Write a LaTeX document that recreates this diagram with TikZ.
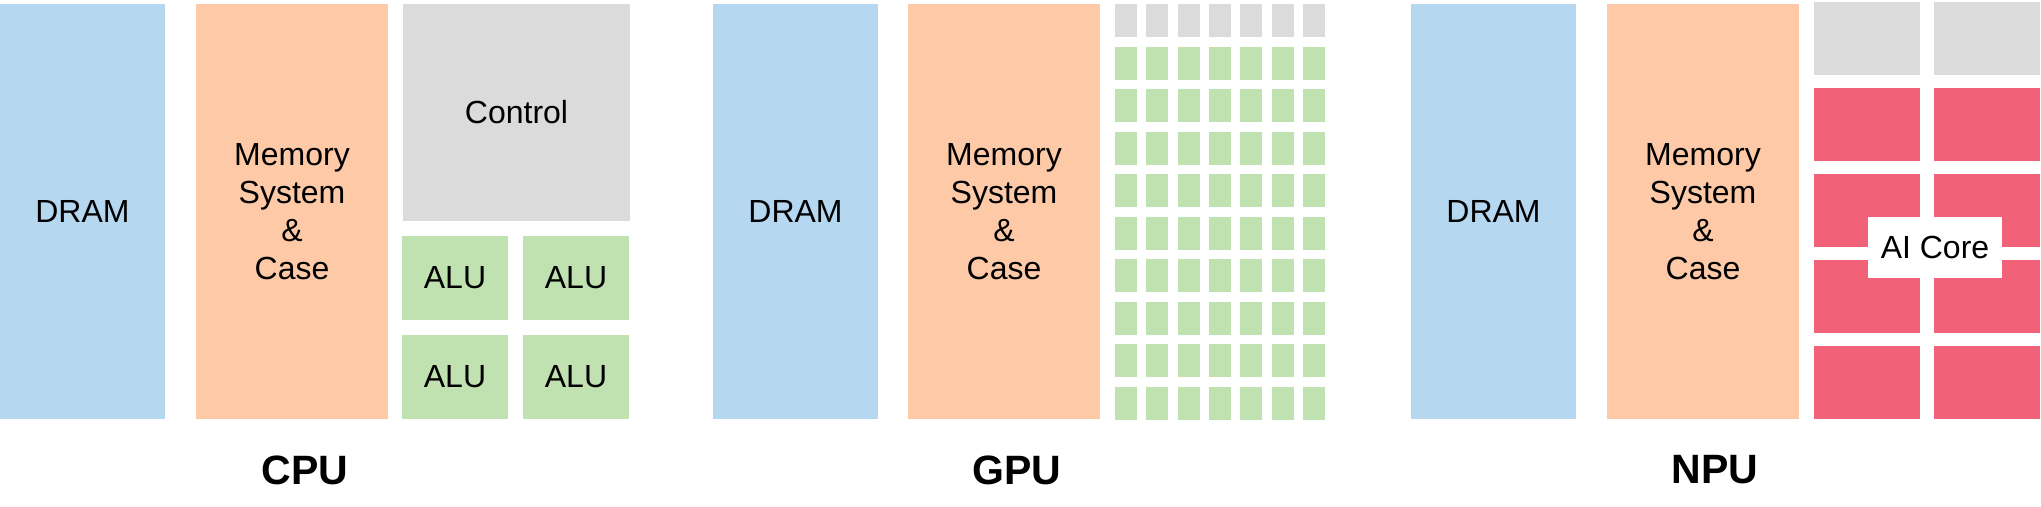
\documentclass[tikz,border=0pt]{standalone}
\usepackage{fontspec}
\setmainfont{Liberation Sans}
\usetikzlibrary{positioning}

\definecolor{dramblue}{HTML}{B6D7F0}
\definecolor{mempeach}{HTML}{FEC9A7}
\definecolor{ctrlgray}{HTML}{DBDBDB}
\definecolor{alugreen}{HTML}{C0E1B0}
\definecolor{corered}{HTML}{F16278}

\begin{document}
\begin{tikzpicture}[
                x=1pt, y=-1pt,
                font=\fontsize{32}{38}\selectfont,
                box/.style={inner sep=0pt, outer sep=0pt, align=center},
                dram/.style={box, fill=dramblue, minimum width=165pt, minimum height=415pt},
                memory/.style={box, fill=mempeach, minimum width=192pt, minimum height=415pt},
                control/.style={box, fill=ctrlgray, anchor=north west},
                alu/.style={box, fill=alugreen, anchor=north west, minimum width=106pt, minimum height=84pt},
                gpucore/.style={box, fill=alugreen, anchor=north west, minimum width=22pt, minimum height=33pt},
                npucore/.style={box, fill=corered, anchor=north west, minimum width=106pt, minimum height=73pt},
                title/.style={font=\fontsize{41}{41}\selectfont\bfseries}]

    \useasboundingbox (0,0) rectangle (2041,506);

    %%% CPU
    \node [dram, anchor=north west] (cpudram) at (0,4) {DRAM};
    \node [memory, right=31pt of cpudram] (cpumemory) {Memory\\System\\\&\\Case};
    \node [control, right=15pt of cpumemory.north east, anchor=north west,
           minimum width=227pt, minimum height=217pt] (cpucontrol) {Control};
    \node [alu] (alu11) at (402,236) {ALU};
    \node [alu] (alu12) at (523,236) {ALU};
    \node [alu] (alu21) at (402,335) {ALU};
    \node [alu] (alu22) at (523,335) {ALU};
    \node [title] (cpu) at (305,470) {CPU};

    %%% GPU
    \node [dram, anchor=north west] (gpudram) at (713,4) {DRAM};
    \node [memory, right=30pt of gpudram] (gpumemory) {Memory\\System\\\&\\Case};
    \foreach \c in {0,...,6} {
        \node [gpucore, fill=ctrlgray] (gpucontrol\c) at (1115+31.33*\c,4) {};
        \foreach \r in {1,...,9}
            \node [gpucore] (gpualu\c-\r) at (1115+31.33*\c,4+42.5*\r) {};
    }
    \node [title] (gpu) at (1017,470) {GPU};

    %%% NPU
    \node [dram, anchor=north west] (npudram) at (1411,4) {DRAM};
    \node [memory, right=31pt of npudram] (npumemory) {Memory\\System\\\&\\Case};
    \foreach \c in {0,1} {
        \node [control, minimum width=106pt, minimum height=73pt] (npucontrol\c) at (1814+120*\c,2) {};
        \foreach \r in {1,...,4}
            \node [npucore] (aicore\c-\r) at (1814+120*\c,2+86*\r) {};
    }
    \node [box, fill=white, minimum width=134pt, minimum height=61pt] (aicore) at (1935,247) {AI Core};
    \node [title] (npu) at (1715,470) {NPU};

\end{tikzpicture}
\end{document}
